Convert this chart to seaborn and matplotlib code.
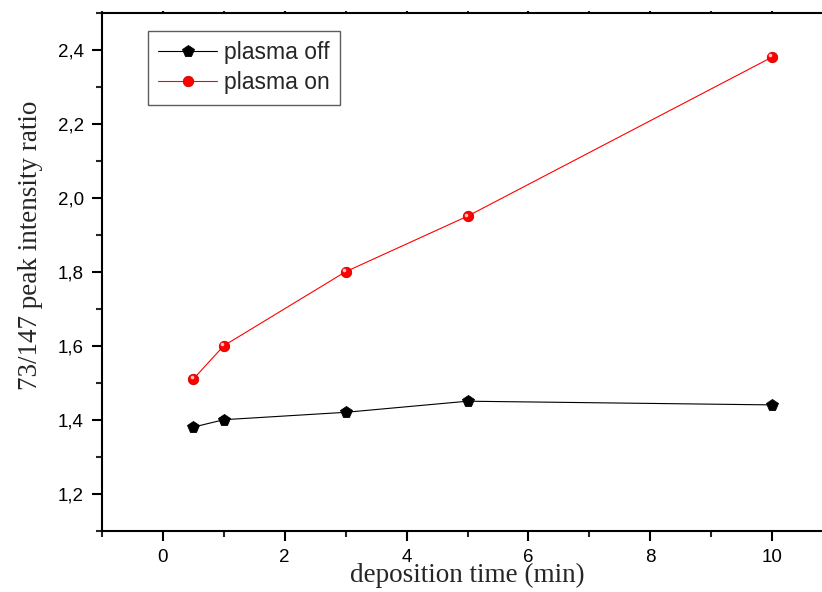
import matplotlib
matplotlib.use("Agg")
import matplotlib.pyplot as plt
import matplotlib.transforms as mtransforms
from matplotlib.lines import Line2D
import seaborn as sns
import pandas as pd
from matplotlib.ticker import MultipleLocator, FuncFormatter

time_min = [0.5, 1, 3, 5, 10]
ratio_off = [1.38, 1.40, 1.42, 1.45, 1.44]
ratio_on = [1.51, 1.60, 1.80, 1.95, 2.38]
series_names = ["plasma off", "plasma on"]

df = pd.DataFrame({
    "time": time_min * 2,
    "ratio": ratio_off + ratio_on,
    "series": [series_names[0]] * len(time_min) + [series_names[1]] * len(time_min),
})

sns.set_theme(style="ticks")
plt.rcParams["font.family"] = ["Liberation Sans", "DejaVu Sans"]

fig = plt.figure(figsize=(8.22, 5.92), dpi=100)
ax = fig.add_axes([102 / 822, 1 - 530.7 / 592, 731 / 822, 518 / 592])

sns.lineplot(data=df, x="time", y="ratio", hue="series", style="series",
             palette={"plasma off": "black", "plasma on": "red"},
             markers={"plasma off": "p", "plasma on": "o"}, dashes=False,
             markersize=8, linewidth=0.8, ax=ax, legend=False)
ax.lines[0].set_markersize(8.5)
ax.lines[0].set_markeredgecolor("black")
ax.lines[1].set_markersize(7.5)
ax.lines[1].set_markeredgecolor("#cc0000")
for ln in ax.lines:
    ln.set_markeredgewidth(0.6)

# specular highlight on the red spheres
hl_tr = ax.transData + mtransforms.ScaledTranslation(-1.2 / 72, 1.2 / 72, fig.dpi_scale_trans)
ax.plot(time_min, ratio_on, ls="none", marker="o", markersize=2.6,
        color="#ffc0c0", markeredgewidth=0, transform=hl_tr)

ax.set_xlim(-1, 11)
ax.set_ylim(1.1, 2.5)
ax.xaxis.set_major_locator(MultipleLocator(2))
ax.xaxis.set_minor_locator(MultipleLocator(1))
ax.yaxis.set_major_locator(MultipleLocator(0.2))
ax.yaxis.set_minor_locator(MultipleLocator(0.1))
ax.yaxis.set_major_formatter(FuncFormatter(lambda v, p: f"{v:.1f}".replace(".", ",")))
ax.xaxis.set_major_formatter(FuncFormatter(lambda v, p: f"{v:g}"))

for s in ax.spines.values():
    s.set_linewidth(1.5)
    s.set_color("black")
ax.tick_params(which="major", direction="out", length=7, width=1.5, labelsize=13.5,
               colors="black", pad=6)
ax.tick_params(which="minor", direction="out", length=4, width=1.5)
ax.tick_params(axis="x", which="both", top=True, labeltop=False)
for t in ax.xaxis.get_major_ticks() + ax.xaxis.get_minor_ticks():
    t.tick2line.set_markersize(1.5)

ax.set_xlabel("deposition time (min)", family=["Liberation Serif"], fontsize=19.5, labelpad=-2)
ax.set_ylabel("73/147 peak intensity ratio", family=["Liberation Serif"], fontsize=19.5)
ax.yaxis.set_label_coords(-0.081, 0.55)

h_off = Line2D([], [], color="black", marker="p", markersize=8.5, lw=0.8,
               markeredgecolor="black", markeredgewidth=0.6)
h_on = Line2D([], [], color="red", marker="o", markersize=7.5, lw=0.8,
              markeredgecolor="#cc0000", markeredgewidth=0.6)
leg = ax.legend([h_off, h_on], series_names, loc="upper left",
                bbox_to_anchor=(46 / 731, (530.7 - 31) / 518), borderaxespad=0,
                fontsize=16.5, frameon=True, fancybox=False, edgecolor="#333333",
                handlelength=2.55, handletextpad=0.3, borderpad=0.45, labelspacing=0.3)
leg.get_frame().set_linewidth(1.0)

fig.savefig("out.png", dpi=100)
